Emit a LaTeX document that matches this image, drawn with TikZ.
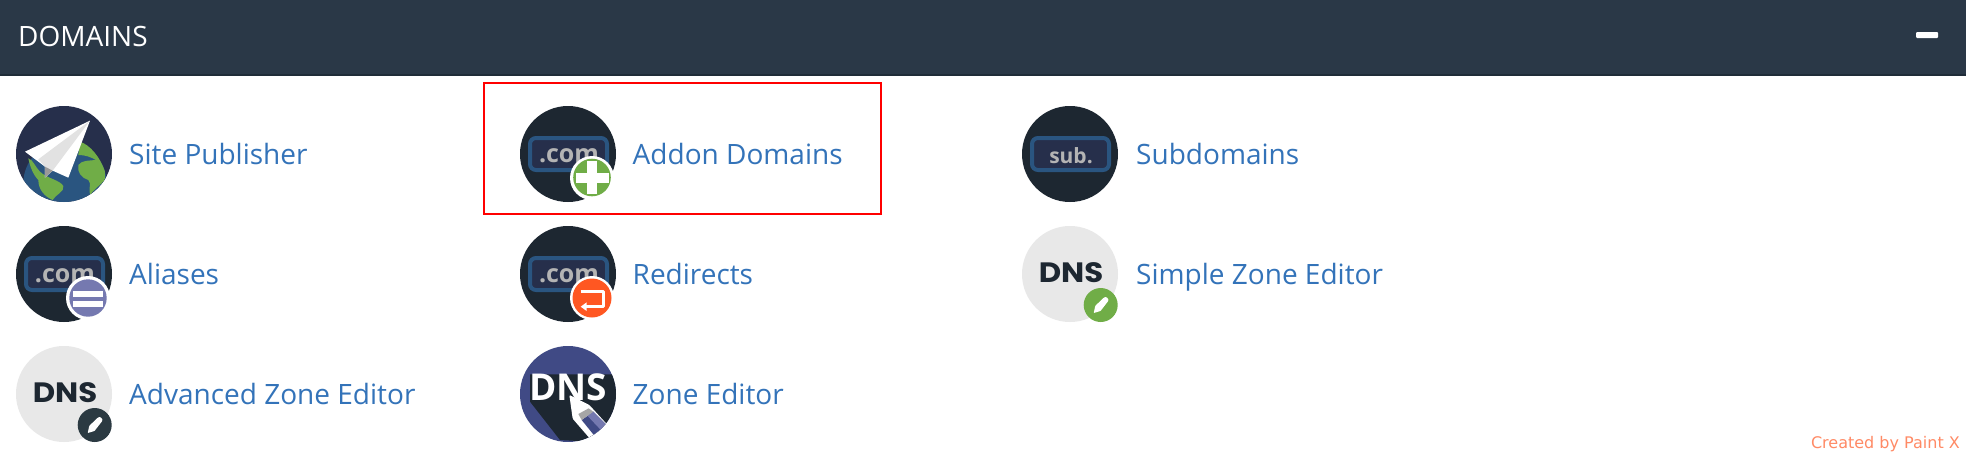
\documentclass[tikz,border=0pt]{standalone}
\usepackage{fontspec}
\setmainfont{Open Sans}
\newfontfamily\dnsfont[FakeStretch=1.1]{Poppins}
\newfontfamily\credfont{DejaVu Sans}
\definecolor{hdr}{HTML}{2A3847}
\definecolor{hdrline}{HTML}{1F2C38}
\definecolor{ink}{HTML}{1D2731}
\definecolor{navy}{HTML}{262F4B}
\definecolor{sea}{HTML}{2A5580}
\definecolor{land}{HTML}{70AD47}
\definecolor{linkc}{HTML}{3373B9}
\definecolor{pale}{HTML}{E8E8E8}
\definecolor{txtgrey}{HTML}{B4B4B4}
\definecolor{lilac}{HTML}{7579B0}
\definecolor{flame}{HTML}{FF5722}
\definecolor{indigo}{HTML}{404A85}
\definecolor{slate}{HTML}{2B3A42}
\definecolor{credit}{HTML}{FF8A65}
\definecolor{leaf}{HTML}{E2E2E2}
\tikzset{
  linktext/.style={anchor=base west,inner sep=0pt,text=linkc,font=\fontsize{28}{30}\selectfont},
  comtext/.style={anchor=base,inner sep=0pt,text=txtgrey,font=\fontsize{25}{27}\selectfont\bfseries},
  dnstext/.style={anchor=center,inner sep=0pt,text=ink,font=\dnsfont\fontsize{28}{30}\selectfont\bfseries},
  pill/.style={draw=sea,line width=4pt,fill=navy,rounded corners=6pt},
}
\newcommand{\disc}[3]{\fill[#3] (#1,#2) circle[radius=48];}
\newcommand{\pillicon}[3]{%
  \disc{#1}{#2}{ink}
  \draw[pill] (#1-38,#2-16) rectangle (#1+39,#2+16);
  \node[comtext] (#3) at (#1+1,#2+8) {.com};
  \fill[white] (#1+24,#2+24) circle[radius=22];
}
\newcommand{\pencilbadge}[3]{%
  \fill[#3] (#1,#2) circle[radius=17];
  \fill[white,rounded corners=0.6pt] (#1-7,#2+8) -- (#1-5.4,#2+0.8) -- (#1+3,#2-7.2) .. controls (#1+5.4,#2-9) and (#1+8.6,#2-6) .. (#1+7.2,#2-3.6) -- (#1-0.2,#2+6) -- cycle;
}
\begin{document}
\begin{tikzpicture}[x=1pt,y=-1pt]
\useasboundingbox (0,0) rectangle (1966,456);
\fill[white] (0,0) rectangle (1966,456);
% header
\fill[hdr] (0,0) rectangle (1966,74);
\fill[hdrline] (0,74) rectangle (1966,76);
\node[anchor=base west,inner sep=0pt,text=white,font=\fontsize{28}{30}\selectfont] (title) at (18,46) {DOMAINS};
\fill[white,rounded corners=1pt] (1916,32) rectangle (1938,38);
% highlight
\draw[red,line width=2pt] (484,83) rectangle (881,214);

% Site Publisher
\begin{scope}
  \clip (64,154) circle[radius=48];
  \fill[navy] (16,106) rectangle (112,202);
  \begin{scope}[shift={(10,100)},scale=1/3]
    \fill[sea] (165,250) circle[radius=125];
    \fill[land] (55,175) .. controls (70,180) and (75,200) .. (90,215) .. controls (110,235) and (150,240) .. (160,258) .. controls (165,275) and (135,285) .. (128,300) .. controls (105,290) and (85,270) .. (85,240) .. controls (70,225) and (60,200) .. (55,175) -- cycle;
    \fill[land] (210,125) .. controls (240,135) and (270,170) .. (285,215) -- (285,240) .. controls (270,255) and (250,270) .. (240,285) .. controls (235,265) and (245,250) .. (235,240) .. controls (215,235) and (200,215) .. (205,195) .. controls (215,180) and (240,182) .. (258,180) .. controls (240,170) and (225,165) .. (205,165) -- cycle;
    \fill[white] (240,62) -- (45,155) -- (105,200) -- (105,233) -- (128,212) -- (175,233) -- cycle;
    \fill[leaf] (240,62) -- (85,178) -- (105,200) -- (128,212) -- cycle;
    \fill[black!40] (105,200) -- (105,233) -- (128,212) -- cycle;
  \end{scope}
\end{scope}
\node[linktext] (sitepub) at (129,164) {Site Publisher};

% Aliases
\pillicon{64}{274}{comA}
\fill[lilac] (88,298) circle[radius=18.7];
\fill[white] (73,290.5) rectangle (103,296.5);
\fill[white] (73,300.5) rectangle (103,306.5);
\node[linktext] (aliases) at (129,284) {Aliases};

% Advanced Zone Editor
\disc{64}{394}{pale}
\node[dnstext] (dnsA) at (65,393) {DNS};
\pencilbadge{94.7}{425}{slate}
\node[linktext] (advzone) at (129,404) {Advanced Zone Editor};

% Addon Domains
\pillicon{568}{154}{comB}
\fill[land] (592,177.5) circle[radius=18.8];
\fill[white] (575.5,172.5) rectangle (608.5,182.5);
\fill[white] (587,161) rectangle (597,194);
\node[linktext] (addon) at (632.5,164) {Addon Domains};

% Redirects
\pillicon{568}{274}{comC}
\fill[flame] (592,298) circle[radius=19.5];
\begin{scope}[shift={(560,270)},scale=1/3]
  \draw[white,line width=3.3pt,line join=round] (62,65) -- (130,65) -- (130,110) -- (75,110);
  \fill[white] (62,110) -- (80,97) -- (80,123) -- cycle;
\end{scope}
\node[linktext] (redirects) at (632.5,284) {Redirects};

% Zone Editor
\begin{scope}
  \clip (568,394) circle[radius=48];
  \fill[indigo] (520,346) rectangle (616,442);
  \begin{scope}[shift={(510,340)},scale=1/3]
    \fill[ink] (60,103) -- (330,103) -- (330,310) -- (150,300) -- (60,185) -- cycle;
  \end{scope}
\end{scope}
\node[anchor=center,inner sep=0pt,text=white,font=\fontsize{37}{39}\selectfont\bfseries] (dnsB) at (568,387) {DNS};
\begin{scope}[shift={(510,340)},scale=1/3]
  \begin{scope}
    \clip (174,162) circle[radius=144];
    \fill[white,rounded corners=1pt] (178,165) -- (188,236) -- (246,303) -- (302,265) -- (238,195) -- cycle;
    \fill[indigo] (215,240) -- (250,215) -- (300,265) -- (262,298) -- cycle;
    \fill[lilac] (232,227) -- (250,215) -- (300,265) -- (282,280) -- cycle;
    \fill[black!35] (205,222) -- (236,205) -- (250,215) -- (215,240) -- cycle;
  \end{scope}
\end{scope}
\node[linktext] (zoneed) at (632.5,404) {Zone Editor};

% Subdomains
\disc{1070}{154}{ink}
\draw[pill] (1032,138) rectangle (1109,170);
\node[comtext,font=\fontsize{21}{23}\selectfont\bfseries] (sub) at (1071,163) {sub.};
\node[linktext] (subd) at (1136,164) {Subdomains};

% Simple Zone Editor
\disc{1070}{274}{pale}
\node[dnstext] (dnsC) at (1071,273) {DNS};
\pencilbadge{1100.7}{305}{land}
\node[linktext] (simplezone) at (1136,284) {Simple Zone Editor};

% credit
\node[anchor=base east,inner sep=0pt,text=credit,font=\credfont\fontsize{16}{18}\selectfont] (cred) at (1960,448) {Created by Paint X};
\end{tikzpicture}
\end{document}
